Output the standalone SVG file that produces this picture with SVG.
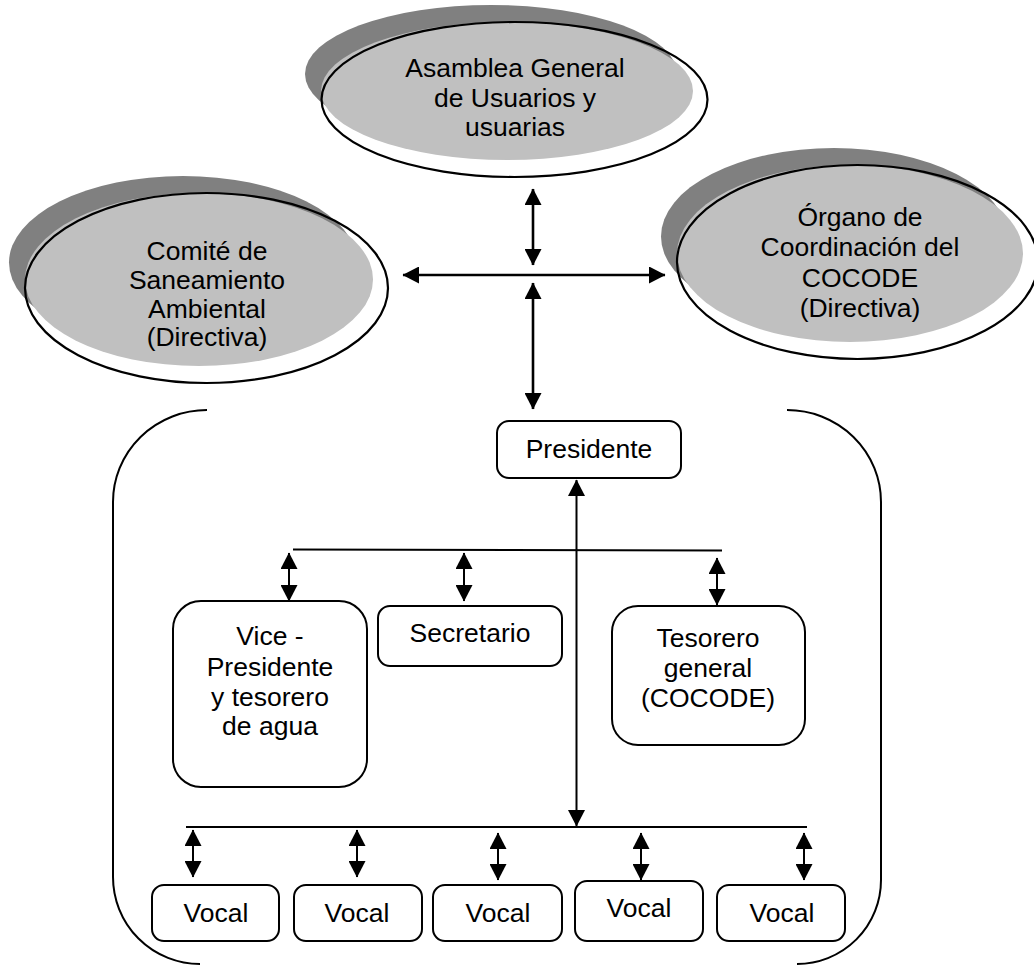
<svg xmlns="http://www.w3.org/2000/svg" width="1034" height="966" viewBox="0 0 1034 966">
<style>
text{font-family:"Liberation Sans",Arial,sans-serif;font-size:26.5px;fill:#000;text-anchor:middle}
.sh{fill:#808080;stroke:none}
.fg{fill:#c0c0c0;stroke:none}
.ol{fill:none;stroke:#000;stroke-width:2.2}
.box{fill:#fff;stroke:#000;stroke-width:2}
.ln{fill:none;stroke:#000;stroke-width:2}
.ar{fill:none;stroke:#000;stroke-width:2;marker-start:url(#ah);marker-end:url(#ah)}
.arb{fill:none;stroke:#000;stroke-width:2.6;marker-start:url(#ah);marker-end:url(#ah)}
</style>
<defs>
<marker id="ah" markerUnits="userSpaceOnUse" markerWidth="17" markerHeight="17" viewBox="0 0 17 17" refX="16" refY="8.5" orient="auto-start-reverse">
<path d="M0,0 L16.5,8.5 L0,17 z" fill="#000"/>
</marker>
</defs>
<rect width="1034" height="966" fill="#fff"/>

<g id="frame">
<path class="ln" d="M207,410 A94,92 0 0 0 113,502 V877 A87,87 0 0 0 200,964"/>
<path class="ln" d="M787,410 A94,92 0 0 1 881,502 V880 A84,84 0 0 1 797,964"/>
</g>

<g id="asamblea">
<ellipse class="sh" cx="491" cy="74" rx="186" ry="69"/>
<ellipse class="fg" cx="507" cy="91" rx="186" ry="69"/>
<ellipse class="ol" cx="514.5" cy="99.5" rx="193" ry="77.5"/>
<text x="515" y="77">Asamblea General</text>
<text x="515" y="107">de Usuarios y</text>
<text x="515" y="136">usuarias</text>
</g>

<g id="comite">
<ellipse class="sh" cx="183" cy="262.5" rx="174" ry="86.5"/>
<ellipse class="fg" cx="199" cy="279.5" rx="174" ry="86.5"/>
<ellipse class="ol" cx="206.5" cy="288" rx="181.5" ry="95"/>
<text x="207" y="260">Comité de</text>
<text x="207" y="289">Saneamiento</text>
<text x="207" y="318">Ambiental</text>
<text x="207" y="346">(Directiva)</text>
</g>

<g id="organo">
<ellipse class="sh" cx="834" cy="236.5" rx="173" ry="88.5"/>
<ellipse class="fg" cx="850" cy="253.5" rx="173" ry="88.5"/>
<ellipse class="ol" cx="857.5" cy="262" rx="180.5" ry="97"/>
<text x="860" y="226">Órgano de</text>
<text x="860" y="256">Coordinación del</text>
<text x="860" y="287">COCODE</text>
<text x="860" y="317">(Directiva)</text>
</g>

<g id="presidente">
<rect class="box" x="497" y="421" width="184" height="57" rx="12"/>
<text x="589" y="458">Presidente</text>
</g>

<g id="vicepresidente">
<rect class="box" x="173" y="601" width="194" height="186" rx="28"/>
<text x="270" y="645">Vice -</text>
<text x="270" y="676">Presidente</text>
<text x="270" y="706">y tesorero</text>
<text x="270" y="735">de agua</text>
</g>

<g id="secretario">
<rect class="box" x="378" y="606" width="184" height="60" rx="12"/>
<text x="470" y="642">Secretario</text>
</g>

<g id="tesorero">
<rect class="box" x="612" y="606" width="193" height="139" rx="26"/>
<text x="708" y="647">Tesorero</text>
<text x="708" y="677">general</text>
<text x="708" y="707">(COCODE)</text>
</g>

<g id="vocal1">
<rect class="box" x="152" y="885" width="127" height="56" rx="12"/>
<text x="216" y="922">Vocal</text>
</g>
<g id="vocal2">
<rect class="box" x="294" y="885" width="128" height="56" rx="12"/>
<text x="357" y="922">Vocal</text>
</g>
<g id="vocal3">
<rect class="box" x="433" y="885" width="129" height="56" rx="12"/>
<text x="498" y="922">Vocal</text>
</g>
<g id="vocal4">
<rect class="box" x="575" y="881" width="128" height="60" rx="12"/>
<text x="639" y="917">Vocal</text>
</g>
<g id="vocal5">
<rect class="box" x="717" y="885" width="128" height="56" rx="12"/>
<text x="782" y="922">Vocal</text>
</g>

<g id="connectors">
<line class="arb" x1="533" y1="189" x2="533" y2="265"/>
<line class="arb" x1="403" y1="275" x2="665" y2="275"/>
<line class="arb" x1="533" y1="283" x2="533" y2="409"/>
<line class="ar" x1="576.5" y1="480" x2="576.5" y2="826"/>
<line class="ln" x1="293" y1="549.5" x2="722" y2="550.5"/>
<line class="ar" x1="289" y1="553" x2="289" y2="601"/>
<line class="ar" x1="464" y1="553" x2="464" y2="601"/>
<line class="ar" x1="717" y1="558" x2="717" y2="605"/>
<line class="ln" x1="186" y1="827" x2="807" y2="827"/>
<line class="ar" x1="193" y1="830" x2="193" y2="877"/>
<line class="ar" x1="357" y1="830" x2="357" y2="877"/>
<line class="ar" x1="498" y1="833" x2="498" y2="880"/>
<line class="ar" x1="641" y1="833" x2="641" y2="880"/>
<line class="ar" x1="804" y1="833" x2="804" y2="880"/>
</g>
</svg>
